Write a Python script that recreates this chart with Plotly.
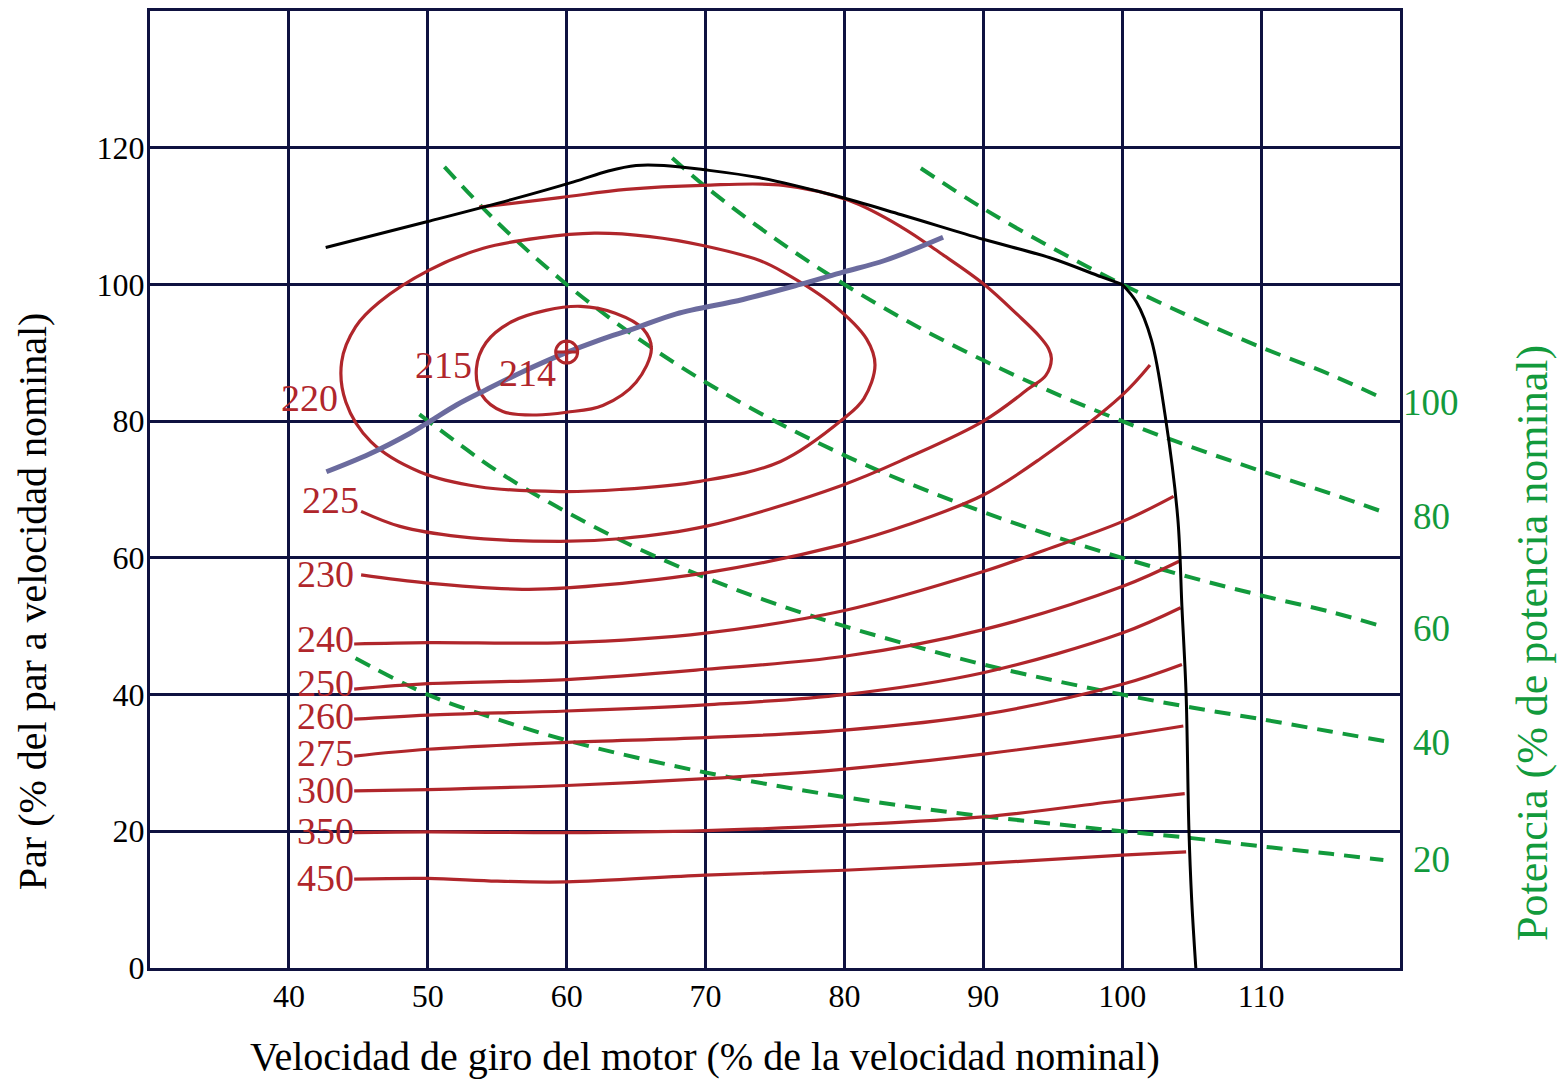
import plotly.graph_objects as go

# ---- Engine map data (speed % of nominal, torque % of nominal) ----
# Full-load torque curve (corner at rated point 100/100)
full_x = [42.65, 50.0, 56.0, 60.5, 63.0, 65.0, 67.0, 69.8, 73.9, 79.3, 84.1, 90.0, 94.8, 98.5,
          100.0, 101.0, 102.1, 103.1, 104.0, 104.3, 104.6, 104.8, 105.0, 105.3]
full_y = [105.4, 109.2, 112.4, 115.0, 116.6, 117.4, 117.4, 116.8, 115.6, 113.0, 110.2, 106.6, 103.9, 101.1,
          100.0, 97.5, 91.9, 80.7, 65.8, 52.8, 40.0, 20.4, 10.0, 0.0]
rated_index = 14

# Specific fuel consumption contours (g/kWh)
c215_x = [53.5, 54.2, 56.0, 58.5, 61.0, 63.5, 65.5, 66.1, 65.0, 62.6, 60.0, 57.8, 55.4, 53.9, 53.5]
c215_y = [87.7, 91.5, 94.5, 96.2, 96.8, 95.8, 93.5, 90.6, 85.7, 82.3, 81.3, 80.9, 81.4, 83.8, 87.7]

c220_x = [43.8, 44.8, 46.5, 50.1, 54.0, 58.0, 62.0, 66.0, 69.8, 73.9, 75.6, 79.2, 81.6, 82.2, 81.4,
          79.9, 75.4, 69.6, 63.8, 59.5, 53.7, 49.4, 45.9, 44.1, 43.8]
c220_y = [88.7, 93.8, 97.4, 102.1, 105.3, 106.8, 107.5, 107.0, 105.7, 103.5, 101.8, 97.0, 92.0, 88.2, 83.3,
          80.3, 74.1, 71.2, 70.0, 69.7, 70.4, 72.6, 77.0, 82.8, 88.7]

c225_x = [45.2, 48.0, 52.3, 59.5, 63.8, 70.0, 79.8, 84.5, 90.0, 93.3, 94.5, 94.9, 94.7, 94.0, 92.5,
          90.0, 86.9, 84.1, 80.3, 75.6, 69.8, 64.3, 59.5, 53.7]
c225_y = [66.8, 64.6, 63.1, 62.4, 62.8, 64.6, 70.6, 74.6, 80.0, 84.8, 86.7, 89.1, 90.6, 92.5, 95.5,
          100.1, 104.6, 108.4, 112.3, 114.5, 114.5, 113.9, 112.7, 111.3]

c230_x = [45.2, 50.0, 56.8, 60.0, 70.0, 79.8, 84.5, 90.0, 94.1, 100.0, 102.0]
c230_y = [57.5, 56.3, 55.4, 55.6, 57.8, 61.9, 64.8, 69.2, 74.5, 83.8, 88.2]

c240_x = [44.7, 50.0, 60.0, 70.0, 80.0, 90.0, 94.1, 100.0, 103.7]
c240_y = [47.4, 47.6, 47.6, 49.0, 52.3, 58.0, 60.9, 65.3, 69.0]

c250_x = [44.7, 50.0, 60.0, 70.0, 80.0, 90.0, 100.0, 104.1]
c250_y = [40.8, 41.6, 42.2, 43.7, 45.6, 49.5, 55.8, 59.5]

c260_x = [44.7, 50.0, 60.0, 70.0, 80.0, 90.0, 100.0, 104.2]
c260_y = [36.4, 37.0, 37.6, 38.5, 40.0, 43.2, 49.0, 52.7]

c275_x = [44.7, 50.0, 60.0, 70.0, 80.0, 90.0, 100.0, 104.3]
c275_y = [31.0, 32.0, 33.0, 33.7, 34.8, 37.1, 41.5, 44.4]

c300_x = [44.7, 50.0, 60.0, 70.0, 80.0, 90.0, 100.0, 104.4]
c300_y = [25.9, 26.1, 26.7, 27.7, 29.1, 31.3, 34.0, 35.4]

c350_x = [44.7, 50.0, 60.0, 70.0, 80.0, 90.0, 100.0, 104.5]
c350_y = [19.8, 19.9, 19.8, 20.1, 20.9, 22.1, 24.5, 25.5]

c450_x = [44.7, 50.0, 55.0, 60.0, 70.0, 80.0, 90.0, 100.0, 104.6]
c450_y = [13.0, 13.1, 12.7, 12.6, 13.6, 14.3, 15.3, 16.5, 17.0]

contours = [
    (c215_x, c215_y), (c220_x, c220_y), (c225_x, c225_y), (c230_x, c230_y),
    (c240_x, c240_y), (c250_x, c250_y), (c260_x, c260_y), (c275_x, c275_y),
    (c300_x, c300_y), (c350_x, c350_y), (c450_x, c450_y),
]

# Contour labels: text, x, y, anchor
label_text = ["214", "215", "220", "225", "230", "240", "250", "260", "275", "300", "350", "450"]
label_x = [57.2, 51.1, 43.7, 45.2, 44.8, 44.8, 44.8, 44.8, 44.8, 44.8, 44.8, 44.8]
label_y = [87.1, 88.2, 83.4, 68.5, 57.6, 48.1, 41.7, 36.8, 31.4, 26.0, 20.1, 13.1]
label_anchor = ["center", "center", "right", "right", "right", "right", "right", "right",
                "right", "right", "right", "right"]

# Minimum consumption point
best_x = [60.0]
best_y = [90.1]

# Optimum operating line
opt_x = [42.7, 45.8, 48.7, 50.1, 52.1, 54.2, 56.8, 59.7, 62.4, 64.8, 67.9, 72.7, 76.8, 79.9, 82.9, 87.1]
opt_y = [72.6, 75.2, 78.2, 79.9, 82.4, 84.6, 87.2, 89.8, 91.9, 93.5, 95.7, 97.8, 100.0, 101.8, 103.5, 106.9]

# Constant power lines (% of nominal power)
p100_x = [85.5, 90.0, 95.0, 100.0, 105.0, 110.0, 115.0, 118.9]
p100_y = [117.0, 111.1, 105.3, 100.0, 95.2, 90.8, 86.8, 83.2]
p80_x = [67.6, 70.0, 75.0, 80.0, 85.0, 90.0, 95.0, 100.0, 105.0, 110.0, 115.0, 118.8]
p80_y = [118.5, 114.3, 106.7, 100.0, 94.1, 88.9, 84.2, 80.0, 76.2, 72.7, 69.4, 66.7]
p60_x = [51.2, 55.0, 60.0, 65.0, 70.0, 75.0, 80.0, 85.0, 90.0, 95.0, 100.0, 105.0, 110.0, 115.0, 118.7]
p60_y = [117.2, 109.1, 100.0, 92.3, 85.7, 80.0, 75.0, 70.6, 66.7, 63.2, 60.0, 57.1, 54.5, 52.1, 50.0]
p40_x = [49.4, 55.0, 60.0, 65.0, 70.0, 75.0, 80.0, 85.0, 90.0, 95.0, 100.0, 105.0, 110.0, 115.0, 118.9]
p40_y = [81.0, 72.7, 66.7, 61.5, 57.1, 53.3, 50.0, 47.1, 44.4, 42.1, 40.0, 38.1, 36.4, 34.6, 33.2]
p20_x = [44.8, 50.0, 55.0, 60.0, 65.0, 70.0, 75.0, 80.0, 85.0, 90.0, 95.0, 100.0, 105.0, 110.0, 115.0, 118.8]
p20_y = [45.3, 40.0, 36.4, 33.3, 30.8, 28.6, 26.7, 25.0, 23.5, 22.2, 21.1, 20.0, 19.0, 17.8, 16.7, 15.8]
power_lines = [(p100_x, p100_y), (p80_x, p80_y), (p60_x, p60_y), (p40_x, p40_y), (p20_x, p20_y)]
power_text = ["100", "80", "60", "40", "20"]
power_label_x = [120.1, 120.8, 120.8, 120.8, 120.8]
power_label_y = [82.8, 66.0, 49.6, 33.0, 15.9]

x_ticks = [40, 50, 60, 70, 80, 90, 100, 110]
y_ticks = [0, 20, 40, 60, 80, 100, 120]
X_RANGE = [30, 120]
Y_RANGE = [0, 140]

FONT = "Liberation Serif, Times New Roman, serif"
RED = "#b0262b"
GREEN = "#129a3c"
NAVY = "#0f1240"

fig = go.Figure()

for px_, py_ in power_lines:
    fig.add_trace(go.Scatter(x=px_, y=py_, mode="lines", line_shape="spline",
                             line=dict(color=GREEN, width=4, dash="16px,10px"),
                             hoverinfo="skip", showlegend=False))

for cx, cy in contours:
    fig.add_trace(go.Scatter(x=cx, y=cy, mode="lines", line_shape="spline",
                             line=dict(color=RED, width=3.2),
                             hoverinfo="skip", showlegend=False))

fig.add_trace(go.Scatter(x=opt_x, y=opt_y, mode="lines", line_shape="spline",
                         line=dict(color="#6b6b9e", width=5),
                         hoverinfo="skip", showlegend=False))

# full-load curve: smooth top part and steep governor part meet at a corner
for sl in (slice(0, rated_index + 1), slice(rated_index, None)):
    fig.add_trace(go.Scatter(x=full_x[sl], y=full_y[sl], mode="lines", line_shape="spline",
                             line=dict(color="black", width=3),
                             hoverinfo="skip", showlegend=False))

fig.add_trace(go.Scatter(x=best_x, y=best_y, mode="markers",
                         marker=dict(symbol="circle-cross-open", size=22, color=RED,
                                     line=dict(color=RED, width=3)),
                         hoverinfo="skip", showlegend=False))

annotations = []
for t, lx, ly, anc in zip(label_text, label_x, label_y, label_anchor):
    annotations.append(dict(x=lx, y=ly, xref="x", yref="y", text=t, showarrow=False,
                            xanchor=anc, yanchor="middle",
                            font=dict(family=FONT, size=38, color=RED)))

# power labels sit just beyond the right edge of the plot area
for t, lx, ly in zip(power_text, power_label_x, power_label_y):
    annotations.append(dict(x=(lx - X_RANGE[0]) / (X_RANGE[1] - X_RANGE[0]), y=ly,
                            xref="paper", yref="y", text=t, showarrow=False,
                            xanchor="left", yanchor="middle",
                            font=dict(family=FONT, size=37, color=GREEN)))

annotations.append(dict(x=705, y=1057, xref="paper", yref="paper",
                        text="Velocidad de giro del motor (% de la velocidad nominal)",
                        showarrow=False, xanchor="center", yanchor="middle",
                        font=dict(family=FONT, size=40, color="black")))
annotations.append(dict(x=32, y=600, xref="paper", yref="paper",
                        text="Par (% del par a velocidad nominal)", textangle=-90,
                        showarrow=False, xanchor="center", yanchor="middle",
                        font=dict(family=FONT, size=40, color="black")))
annotations.append(dict(x=1532, y=642, xref="paper", yref="paper",
                        text="Potencia (% de potencia nominal)", textangle=-90,
                        showarrow=False, xanchor="center", yanchor="middle",
                        font=dict(family=FONT, size=44, color=GREEN)))

# convert the pixel-placed titles to paper coordinates
W, H = 1566, 1080
ML, MR, MT, MB = 150, 166, 8, 112
for a in annotations[-3:]:
    a["x"] = (a["x"] - ML) / (W - ML - MR)
    a["y"] = (H - MB - a["y"]) / (H - MT - MB)

fig.update_layout(
    width=W, height=H,
    margin=dict(l=ML, r=MR, t=MT, b=MB),
    paper_bgcolor="white", plot_bgcolor="white",
    annotations=annotations,
    showlegend=False,
)
fig.update_xaxes(range=X_RANGE, tickvals=x_ticks, showgrid=True, gridcolor=NAVY, gridwidth=3,
                 showline=True, linecolor=NAVY, linewidth=3, mirror=True, zeroline=False,
                 ticks="", ticklen=0, ticklabelstandoff=-2,
                 tickfont=dict(family=FONT, size=32, color="black"))
fig.update_yaxes(range=Y_RANGE, tickvals=y_ticks, showgrid=True, gridcolor=NAVY, gridwidth=3,
                 showline=True, linecolor=NAVY, linewidth=3, mirror=True, zeroline=False,
                 ticks="", ticklen=0, ticklabelstandoff=-4,
                 tickfont=dict(family=FONT, size=32, color="black"))

fig.write_html("out.html")
